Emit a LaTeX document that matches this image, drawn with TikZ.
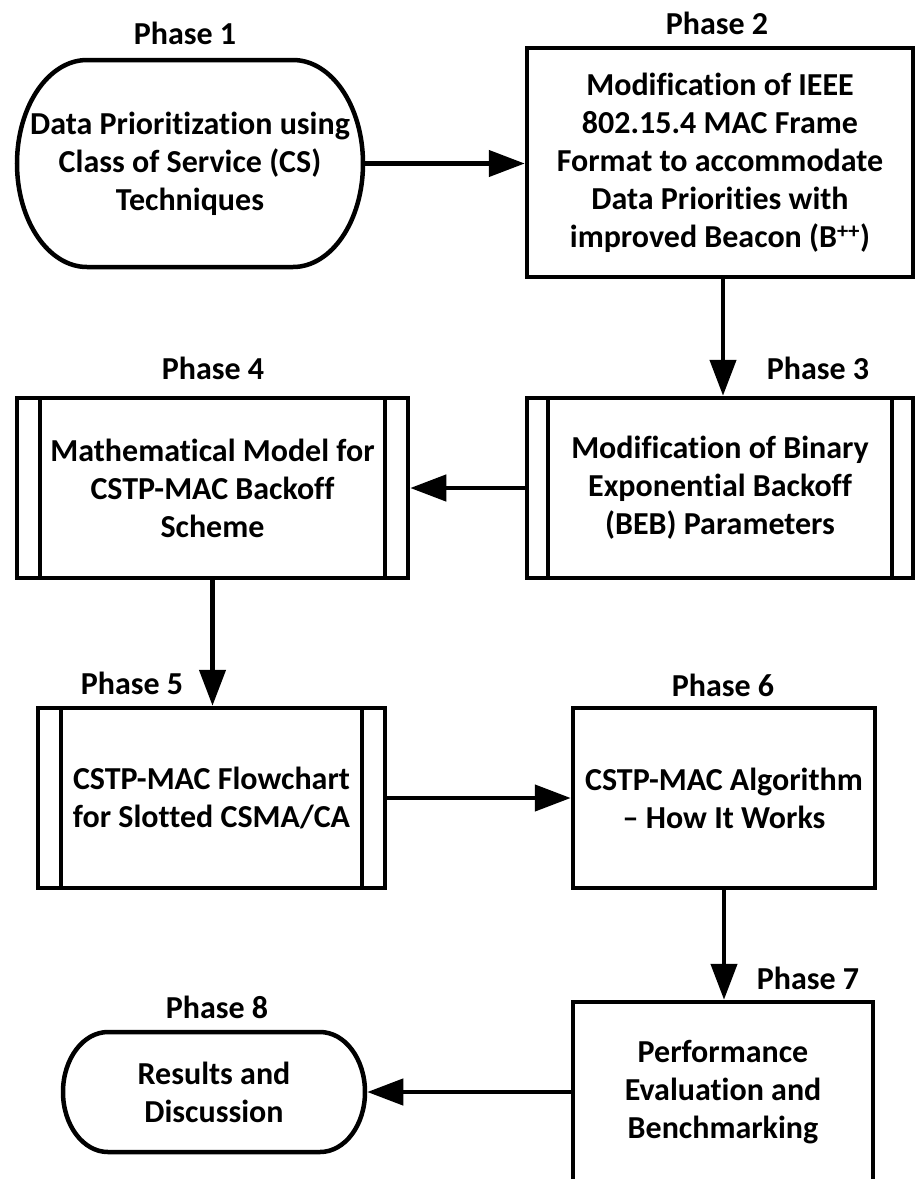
\documentclass[tikz,border=0pt]{standalone}
\usepackage{fontspec}
\setmainfont{Carlito}[Ligatures=NoCommon]
\usetikzlibrary{arrows.meta,calc}
\tikzset{
  bw/.style={line width=4.5pt},
  txt/.style={font=\fontsize{32}{38}\selectfont\bfseries, align=center, inner sep=0pt},
  termnode/.style 2 args={txt, bw, rectangle, minimum width=#1pt, minimum height=#2pt},
  procbox/.style 2 args={txt, bw, draw, rectangle, minimum width=#1pt, minimum height=#2pt},
  subproc/.style n args={3}{procbox={#1}{#2},
    path picture={
      \draw[bw] ([xshift=#3pt]path picture bounding box.north west) -- ([xshift=#3pt]path picture bounding box.south west);
      \draw[bw] ([xshift=-#3pt]path picture bounding box.north east) -- ([xshift=-#3pt]path picture bounding box.south east);
    }},
  arr/.style={bw, -{Triangle[length=36pt,width=26pt]}},
}
\newcommand\stadiumoutline[4]{%
  \draw[bw] ([shift={({-#2/2+#4},{#3/2})}]#1.center) -- ([shift={({#2/2-#4},{#3/2})}]#1.center)
    arc[start angle=90,end angle=-90,x radius=#4,y radius=#3/2]
    -- ([shift={({-#2/2+#4},{-#3/2})}]#1.center)
    arc[start angle=270,end angle=90,x radius=#4,y radius=#3/2] -- cycle;}
\begin{document}
\begin{tikzpicture}[x=1pt,y=1pt]
\useasboundingbox (0,0) rectangle (915,-1179);
\fill[white] (0,0) rectangle (915,-1179);

% labels
\node[txt] (l1) at (185,-33) {Phase 1};
\node[txt] (l2) at (717,-23) {Phase 2};
\node[txt] (l3) at (818,-368) {Phase 3};
\node[txt] (l4) at (213,-368) {Phase 4};
\node[txt] (l5) at (132,-683) {Phase 5};
\node[txt] (l6) at (723,-685) {Phase 6};
\node[txt] (l7) at (808,-978) {Phase 7};
\node[txt] (l8) at (217,-1007) {Phase 8};

% nodes
\node[termnode={346}{207}] (p1) at (190,-163.5) {Data Prioritization using\\Class of Service (CS)\\Techniques};
\stadiumoutline{p1}{346}{207}{70}

\node[procbox={386}{229}] (p2) at (720,-162.5) {Modification of IEEE\\802.15.4 MAC Frame\\Format to accommodate\\Data Priorities with\\improved Beacon (B\textsuperscript{++})};

\node[subproc={386}{180}{21}] (p3) at (720,-488) {Modification of Binary\\Exponential Backoff\\(BEB) Parameters};

\node[subproc={391}{180}{23}] (p4) at (212.5,-488) {Mathematical Model for\\CSTP-MAC Backoff\\Scheme};

\node[subproc={347}{180}{23}] (p5) at (211.5,-798) {CSTP-MAC Flowchart\\for Slotted CSMA/CA};

\node[procbox={302}{180}] (p6) at (724,-798) {CSTP-MAC Algorithm\\– How It Works};

\node[procbox={300}{180}] (p7) at (723,-1092) {Performance\\Evaluation and\\Benchmarking};

\node[termnode={302}{120}] (p8) at (214,-1092) {Results and\\Discussion};
\stadiumoutline{p8}{302}{120}{45}

% connectors
\draw[arr] (p1.east) -- (p2.west |- p1.east);
\draw[arr] ([xshift=3pt]p2.south) -- ([xshift=3pt]p3.north);
\draw[arr] (p3.west) -- (p4.east |- p3.west);
\draw[arr] (p4.south) -- (p4.south |- p5.north);
\draw[arr] (p5.east) -- (p6.west |- p5.east);
\draw[arr] (p6.south) -- (p6.south |- p7.north);
\draw[arr] (p7.west) -- (p8.east |- p7.west);
\end{tikzpicture}
\end{document}
